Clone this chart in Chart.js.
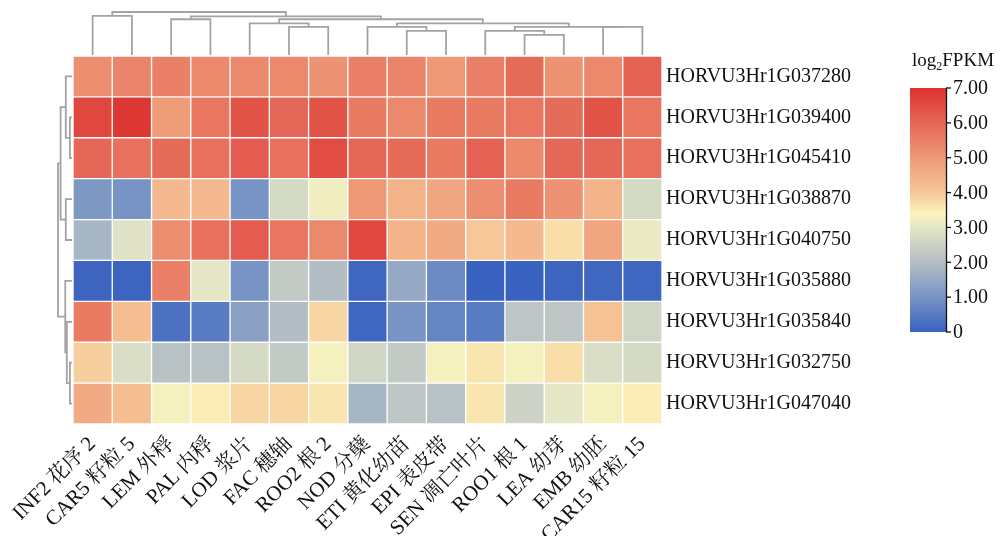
<!DOCTYPE html>
<html><head><meta charset="utf-8">
<script src="https://cdn.jsdelivr.net/npm/chart.js@4.4.1/dist/chart.umd.min.js"></script>
<style>html,body{margin:0;padding:0;background:#fff;}#wrap{width:1001px;height:536px;position:relative;}</style>
</head><body><div id="wrap"><canvas id="c" width="1001" height="536"></canvas></div>
<script>
// ---------- data ----------
const samples = ["INF2 花序 2","CAR5 籽粒 5","LEM 外稃","PAL 内稃","LOD 浆片","FAC 穗轴","ROO2 根 2","NOD 分蘖","ETI 黄化幼苗","EPI 表皮带","SEN 凋亡叶片","ROO1 根 1","LEA 幼芽","EMB 幼胚","CAR15 籽粒 15"];
const genes = ["HORVU3Hr1G037280","HORVU3Hr1G039400","HORVU3Hr1G045410","HORVU3Hr1G038870","HORVU3Hr1G040750","HORVU3Hr1G035880","HORVU3Hr1G035840","HORVU3Hr1G032750","HORVU3Hr1G047040"];
const g037280 = [5.2,5.4,5.5,5.3,5.3,5.3,5.1,5.5,5.4,5.0,5.5,5.9,5.1,5.3,6.1];
const g039400 = [6.6,6.9,4.9,5.7,6.4,6.0,6.4,5.6,5.3,5.6,5.6,5.7,5.9,6.4,5.7];
const g045410 = [6.0,5.8,5.9,5.8,6.2,5.8,6.5,6.0,5.9,5.6,6.1,5.3,6.0,6.0,5.8];
const g038870 = [1.1,1.0,4.3,4.3,1.0,2.7,3.2,5.0,4.4,4.7,5.2,5.6,5.1,4.4,2.7];
const g040750 = [1.8,2.9,5.2,5.8,6.2,5.7,5.3,6.6,4.4,4.6,4.0,4.3,3.7,4.7,3.1];
const g035880 = [0.05,0.05,5.5,3.0,1.0,2.3,2.0,0.1,1.5,0.8,0.0,0.0,0.05,0.1,0.1];
const g035840 = [5.6,4.2,0.3,0.5,1.3,2.0,3.8,0.1,1.0,0.7,0.5,2.2,2.2,4.1,2.6];
const g032750 = [3.9,2.8,2.1,2.1,2.7,2.3,3.3,2.6,2.3,3.3,3.6,3.3,3.7,2.8,2.7];
const g047040 = [4.6,4.2,3.3,3.5,3.8,3.8,3.6,1.8,2.2,2.1,3.6,2.5,3.0,3.3,3.5];
const rowValues = [g037280,g039400,g045410,g038870,g040750,g035880,g035840,g032750,g047040];

// colour scale (log2FPKM)
const stopValues = [0,1,2,3,3.4,4,5,6,7];
const stopColors = ["#3a62c0","#7894c4","#b3bec4","#e4e6c6","#fbf4bc","#f6c798","#ee9876","#e56757","#dc322f"];
const cbarTicks = [0,1,2,3,4,5,6,7];
const cbarTickLabels = ["0","1.00","2.00","3.00","4.00","5.00","6.00","7.00"];

// dendrograms: [childA, childB, height]; leaves are 0..n-1, new nodes numbered n, n+1, ...
const colLinkage = [[0,1,188],[2,3,172],[5,6,135],[4,17,152],[8,9,116],[7,19,135],[11,12,97],[10,21,116],[13,14,135],[22,23,135],[20,24,152],[18,25,172],[16,26,186],[15,27,207]];
const rowLinkage = [[1,2,2],[0,9,6],[3,4,6],[10,11,11],[7,8,2],[6,13,5],[5,14,6.5],[12,15,13.5]];

// ---------- helpers ----------
const FONT = "'Liberation Serif','Noto Serif CJK SC','Noto Sans CJK SC',serif";
function hex(h){return [parseInt(h.slice(1,3),16),parseInt(h.slice(3,5),16),parseInt(h.slice(5,7),16)];}
function colorFor(v){
  if(v<=stopValues[0]) return stopColors[0];
  for(let i=1;i<stopValues.length;i++){
    if(v<=stopValues[i]){
      const t=(v-stopValues[i-1])/(stopValues[i]-stopValues[i-1]);
      const a=hex(stopColors[i-1]), b=hex(stopColors[i]);
      return "rgb("+a.map((x,k)=>Math.round(x+(b[k]-x)*t)).join(",")+")";
    }
  }
  return stopColors[stopColors.length-1];
}

function drawDendro(ctx, linkage, nLeaves, leafPos, toPix, horizontalTree){
  const pos=[], ht=[];
  for(let i=0;i<nLeaves;i++){pos.push(leafPos(i));ht.push(0);}
  ctx.save();
  ctx.strokeStyle="#a3a3a3"; ctx.lineWidth=1.8; ctx.lineCap="butt";
  linkage.forEach(([a,b,h])=>{
    const p=toPix(h), pa=toPix(ht[a]), pb=toPix(ht[b]);
    ctx.beginPath();
    if(horizontalTree){
      ctx.moveTo(pos[a],pa); ctx.lineTo(pos[a],p); ctx.lineTo(pos[b],p); ctx.lineTo(pos[b],pb);
    } else {
      ctx.moveTo(pa,pos[a]); ctx.lineTo(p,pos[a]); ctx.lineTo(p,pos[b]); ctx.lineTo(pb,pos[b]);
    }
    ctx.stroke();
    pos.push((pos[a]+pos[b])/2); ht.push(h);
  });
  ctx.restore();
}

const extras = {
  id:"extras",
  afterDraw(chart){
    const ctx=chart.ctx, area=chart.chartArea, xs=chart.scales.x, ys=chart.scales.yg;
    const colMax=colLinkage[colLinkage.length-1][2];
    const topBase=area.top-1, topSpan=43;
    drawDendro(ctx,colLinkage,samples.length,i=>xs.getPixelForValue(i),h=>topBase-h/colMax*topSpan,true);
    const rowMax=rowLinkage[rowLinkage.length-1][2];
    const leftBase=area.left-1, leftSpan=14;
    drawDendro(ctx,rowLinkage,genes.length,i=>ys.getPixelForValue(i),h=>leftBase-h/rowMax*leftSpan,false);

    // colour bar
    const x0=910, x1=946, yT=88, yB=332;
    const vmin=stopValues[0], vmax=stopValues[stopValues.length-1];
    const vy=v=>yB-(v-vmin)/(vmax-vmin)*(yB-yT);
    const grad=ctx.createLinearGradient(0,yB,0,yT);
    stopValues.forEach((v,i)=>grad.addColorStop((v-vmin)/(vmax-vmin),stopColors[i]));
    ctx.save();
    ctx.fillStyle=grad; ctx.fillRect(x0,yT,x1-x0,yB-yT);
    ctx.strokeStyle="#111"; ctx.lineWidth=1.3;
    ctx.beginPath(); ctx.moveTo(x1+0.5,yT); ctx.lineTo(x1+0.5,yB); ctx.stroke();
    ctx.fillStyle="#111"; ctx.font="20px "+FONT; ctx.textBaseline="middle"; ctx.textAlign="left";
    cbarTicks.forEach((t,i)=>{
      const y=vy(t);
      ctx.beginPath(); ctx.moveTo(x1,y); ctx.lineTo(x1+5,y); ctx.stroke();
      ctx.fillText(cbarTickLabels[i],x1+7,y+1);
    });
    ctx.textBaseline="alphabetic";
    let tx=912; const ty=66;
    ctx.font="19px "+FONT; ctx.fillText("log",tx,ty); tx+=ctx.measureText("log").width;
    ctx.font="12px "+FONT; ctx.fillText("2",tx,ty+4); tx+=ctx.measureText("2").width;
    ctx.font="19px "+FONT; ctx.fillText("FPKM",tx,ty);
    ctx.restore();
  }
};

const datasets = genes.map((g,r)=>({
  label:g,
  data: samples.map(()=>[r,r+1]),
  backgroundColor: rowValues[r].map(colorFor),
  borderColor:"#ffffff", borderWidth:1, borderSkipped:false,
  barPercentage:1, categoryPercentage:1, grouped:false,
  yAxisID:"yv"
}));

new Chart(document.getElementById("c"),{
  type:"bar",
  data:{labels:samples,datasets},
  options:{
    responsive:false, animation:false, events:[],
    layout:{padding:{left:73,top:56,right:0,bottom:0}},
    plugins:{legend:{display:false},tooltip:{enabled:false}},
    scales:{
      x:{type:"category",offset:true,
         grid:{display:false,drawTicks:false},border:{display:false},
         ticks:{minRotation:45,maxRotation:45,autoSkip:false,padding:8,color:"#111",font:{family:FONT,size:21}},
         afterFit(s){s.height=112;}},
      yv:{type:"linear",display:false,min:0,max:9,reverse:true},
      yg:{type:"category",labels:genes,position:"right",offset:true,
          grid:{display:false,drawTicks:false},border:{display:false},
          ticks:{padding:4,color:"#111",font:{family:FONT,size:20}},
          afterFit(s){s.width=339;}}
    }
  },
  plugins:[extras]
});
</script></body></html>
